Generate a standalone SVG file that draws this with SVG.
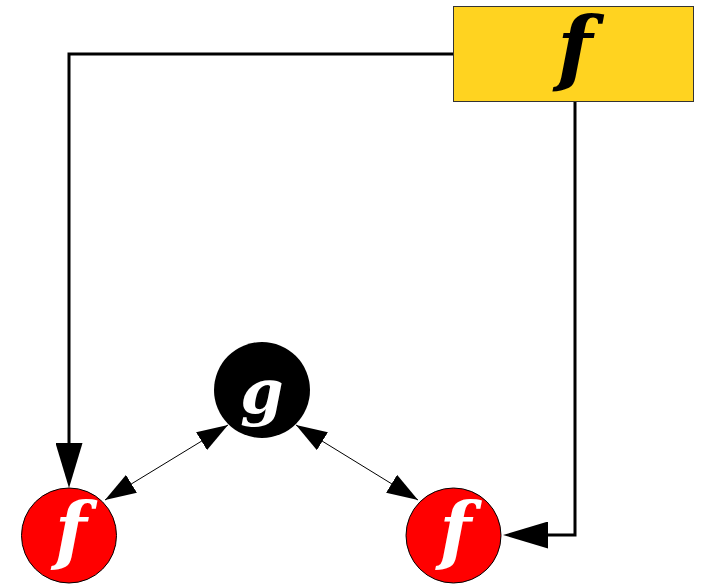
<svg xmlns="http://www.w3.org/2000/svg" width="704" height="584" viewBox="0 0 704 584">
<style>
.lbl{font-family:"DejaVu Serif","Liberation Serif",serif;font-weight:bold;font-style:italic;text-anchor:middle}
.fs{font-size:74px}
.fb{font-size:82px}
.gs{font-size:62px}
.thick{fill:none;stroke:#000;stroke-width:3}
.thin{fill:none;stroke:#000;stroke-width:1}
</style>
<defs>
<marker id="big" markerUnits="userSpaceOnUse" viewBox="0 0 45 27" refX="15" refY="13.5" markerWidth="45" markerHeight="27" orient="auto">
<path d="M0,0 L45,13.5 L0,27 z" fill="#000"/>
</marker>
<marker id="small" markerUnits="userSpaceOnUse" viewBox="0 0 31 21" refX="31" refY="10.5" markerWidth="31" markerHeight="21" orient="auto-start-reverse">
<path d="M0,0 L31,10.5 L0,21 z" fill="#000"/>
</marker>
</defs>
<g id="connectors">
<path class="thick" d="M453,54 H69 V458" marker-end="url(#big)"/>
<path class="thick" d="M575,101 V535 H533" marker-end="url(#big)"/>
<path class="thin" d="M105,500 L228,425" marker-start="url(#small)" marker-end="url(#small)"/>
<path class="thin" d="M296,425 L418,500" marker-start="url(#small)" marker-end="url(#small)"/>
</g>
<g id="top-f">
<rect x="453.5" y="6.5" width="240" height="95" fill="#ffd320" stroke="#333" stroke-width="1"/>
<text class="lbl fb" x="575" y="76" fill="#000">f</text>
</g>
<g id="g-node">
<circle cx="262" cy="390" r="48" fill="#000"/>
<text class="lbl gs" x="262" y="413" fill="#fff">g</text>
</g>
<g id="left-f">
<circle cx="69" cy="535.5" r="47.5" fill="#f00" stroke="#000" stroke-width="1"/>
<text class="lbl fs" x="71" y="556" fill="#fff">f</text>
</g>
<g id="right-f">
<circle cx="453.5" cy="535.5" r="47.5" fill="#f00" stroke="#000" stroke-width="1"/>
<text class="lbl fs" x="455.5" y="556" fill="#fff">f</text>
</g>
</svg>
